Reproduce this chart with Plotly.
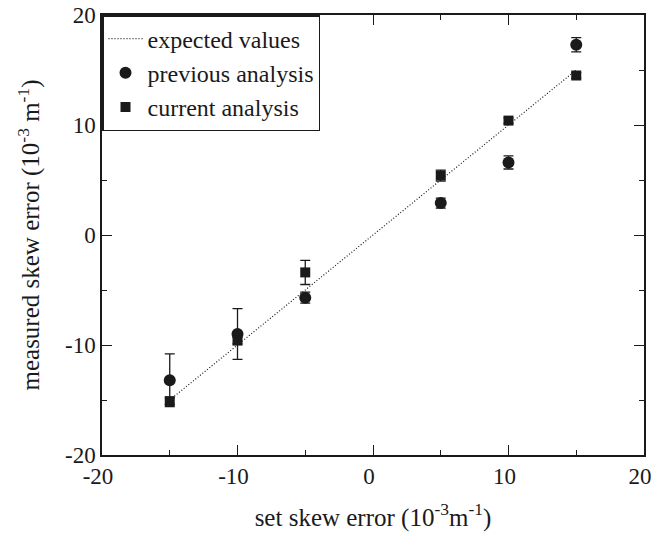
import plotly.graph_objects as go

set_error = [-15, -10, -5, 5, 10, 15]
expected_x = [-15, 15]
expected_y = [-15, 15]
previous_y = [-13.2, -9.0, -5.7, 2.9, 6.6, 17.3]
previous_err = [2.4, 2.3, 0.5, 0.45, 0.6, 0.65]
current_y = [-15.1, -9.6, -3.4, 5.4, 10.4, 14.5]
current_err = [0.3, 0.3, 1.1, 0.5, 0.25, 0.25]
x_ticks = [-20, -10, 0, 10, 20]
y_ticks = [-20, -10, 0, 10, 20]

ink = "#1a1a1a"
font = "Liberation Serif, Times New Roman, serif"

fig = go.Figure()
fig.add_trace(go.Scatter(x=expected_x, y=expected_y, mode="lines", name="expected values",
                         line=dict(color=ink, width=1.2, dash="1px,2px")))
fig.add_trace(go.Scatter(x=set_error, y=previous_y, mode="markers", name="previous analysis",
                         marker=dict(symbol="circle", size=12, color=ink),
                         error_y=dict(type="data", array=previous_err, color=ink, thickness=1.3, width=5)))
fig.add_trace(go.Scatter(x=set_error, y=current_y, mode="markers", name="current analysis",
                         marker=dict(symbol="square", size=10, color=ink),
                         error_y=dict(type="data", array=current_err, color=ink, thickness=1.3, width=5)))

axis_common = dict(showgrid=False, zeroline=False, showline=True, linecolor=ink, linewidth=1.5,
                   mirror="ticks", ticks="inside", ticklen=10, tickwidth=1.2, tickcolor=ink,
                   minor=dict(ticks="inside", ticklen=5, dtick=5, tickwidth=1.2, tickcolor=ink),
                   tickfont=dict(family=font, size=23, color=ink), automargin=False,
                   ticklabeloverflow="allow")

fig.update_xaxes(range=[-20, 20], tickvals=x_ticks, ticktext=[str(v) for v in x_ticks],
                 ticklabelshift=-4,
                 title=dict(text="set skew error (10<sup>-3</sup>m<sup>-1</sup>)",
                            font=dict(family=font, size=25, color=ink), standoff=20),
                 **axis_common)
fig.update_yaxes(range=[-20, 20], tickvals=y_ticks, ticktext=[str(v) for v in y_ticks],
                 title=dict(text="measured skew error (10<sup>-3</sup> m<sup>-1</sup>)",
                            font=dict(family=font, size=25, color=ink), standoff=18),
                 **axis_common)

fig.update_layout(
    width=653, height=535,
    margin=dict(l=102, r=9, t=15, b=80),
    plot_bgcolor="white", paper_bgcolor="white",
    font=dict(family=font, color=ink),
    legend=dict(x=0, y=1, xanchor="left", yanchor="top", bgcolor="white",
                bordercolor=ink, borderwidth=1.5, font=dict(family=font, size=24, color=ink),
                tracegroupgap=0, itemwidth=34),
    showlegend=True,
)

fig.write_html("out.html")
